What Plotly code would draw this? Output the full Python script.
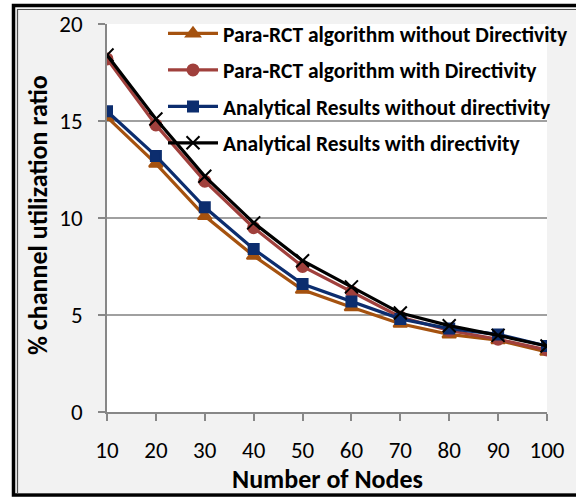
import plotly.graph_objects as go

nodes = [10, 20, 30, 40, 50, 60, 70, 80, 90, 100]
para_without = [15.2, 12.8, 10.1, 8.05, 6.3, 5.4, 4.55, 4.0, 3.7, 3.1]
para_with = [18.2, 14.8, 11.9, 9.5, 7.5, 6.2, 4.9, 4.2, 3.75, 3.2]
anal_without = [15.5, 13.2, 10.55, 8.4, 6.6, 5.7, 4.8, 4.3, 4.0, 3.4]
anal_with = [18.4, 15.1, 12.15, 9.75, 7.8, 6.45, 5.1, 4.45, 3.95, 3.4]

names = ["Para-RCT algorithm without Directivity",
         "Para-RCT algorithm with Directivity",
         "Analytical Results without directivity",
         "Analytical Results with directivity"]
y_ticks = [0, 5, 10, 15, 20]
x_title = "Number of Nodes"
y_title = "% channel utilization ratio"

FONT = "Carlito, Calibri, Lato, sans-serif"

fig = go.Figure()
series = [
    (para_without, names[0], "#A5520F", "triangle-up", 12),
    (para_with, names[1], "#A0403C", "circle", 11),
    (anal_without, names[2], "#0C2D6E", "square", 10),
    (anal_with, names[3], "#000000", "x-thin-open", 13),
]
for i, (vals, nm, col, sym, sz) in enumerate(series):
    fig.add_trace(go.Scatter(
        x=nodes, y=vals, name=nm, mode="lines+markers",
        line=dict(color=col, width=3.2),
        marker=dict(symbol=sym, size=sz, color=col,
                    line=dict(color=col, width=2)),
        legendgroup=f"g{i}",
    ))

# plot area in pixels: x 107..547, y 24..412
W, H = 576, 497
L, R, T, B = 107, 547, 24, 412
def px(x):
    return (x - L) / (R - L)
def py(y):
    return (B - y) / (B - T)

shapes = [
    dict(type="rect", xref="paper", yref="paper", x0=px(0), x1=px(12), y0=py(W), y1=py(0),
         fillcolor="white", line_width=0, layer="below"),
    dict(type="rect", xref="paper", yref="paper", x0=px(0), x1=px(600), y0=py(4), y1=py(0),
         fillcolor="white", line_width=0, layer="below"),
    dict(type="rect", xref="paper", yref="paper", x0=px(13.5), x1=px(620), y0=py(495), y1=py(5.5),
         line=dict(color="black", width=3.5), fillcolor="rgba(0,0,0,0)"),
    dict(type="rect", xref="paper", yref="paper", x0=px(17.5), x1=px(620), y0=py(493.5), y1=py(9.5),
         line=dict(color="#505050", width=1.2), fillcolor="rgba(0,0,0,0)"),
    # legend area hides the top gridline
    dict(type="line", xref="paper", yref="y", x0=px(165), x1=px(516), y0=20, y1=20,
         line=dict(color="white", width=2.5), layer="between"),
]

annotations = [
    dict(text=f"<b>{x_title}</b>", xref="paper", yref="paper", x=px(327), y=py(479),
         xanchor="center", yanchor="middle", showarrow=False,
         font=dict(size=26, family=FONT, color="black")),
    dict(text=f"<b>{y_title}</b>", xref="paper", yref="paper", x=px(37.5), y=py(215.5),
         xanchor="center", yanchor="middle", showarrow=False, textangle=-90,
         font=dict(size=26, family=FONT, color="black")),
]

fig.update_layout(
    width=W, height=H,
    margin=dict(l=L, r=W - R, t=T, b=H - B, autoexpand=False),
    paper_bgcolor="#F2F2F2",
    plot_bgcolor="white",
    shapes=shapes,
    annotations=annotations,
    font=dict(family=FONT, color="black"),
    showlegend=True,
    legend=dict(
        x=px(163), y=py(13), xanchor="left", yanchor="top",
        bgcolor="rgba(0,0,0,0)", borderwidth=0,
        font=dict(family=FONT, size=21.5, color="black", weight="bold"),
        itemwidth=50, tracegroupgap=5.5,
    ),
    xaxis=dict(
        range=[10, 100], tickvals=nodes, ticktext=[str(n) for n in nodes],
        showgrid=False, showline=True, linecolor="#878787", linewidth=1.5,
        ticks="outside", ticklen=7, tickcolor="#878787", tickwidth=1.5,
        tickfont=dict(size=23, family=FONT), zeroline=False, ticklabelstandoff=10,
    ),
    yaxis=dict(
        range=[0, 20], tickvals=y_ticks,
        showgrid=True, gridcolor="#A0A0A0", gridwidth=1.5,
        showline=True, linecolor="#878787", linewidth=1.5,
        ticks="outside", ticklen=7, tickcolor="#878787", tickwidth=1.5,
        tickfont=dict(size=23, family=FONT), zeroline=False, ticklabelstandoff=11,
    ),
)

fig.write_html("out.html", config={"displayModeBar": False},
               post_script="document.body.style.margin='0';document.body.style.overflow='hidden';")
